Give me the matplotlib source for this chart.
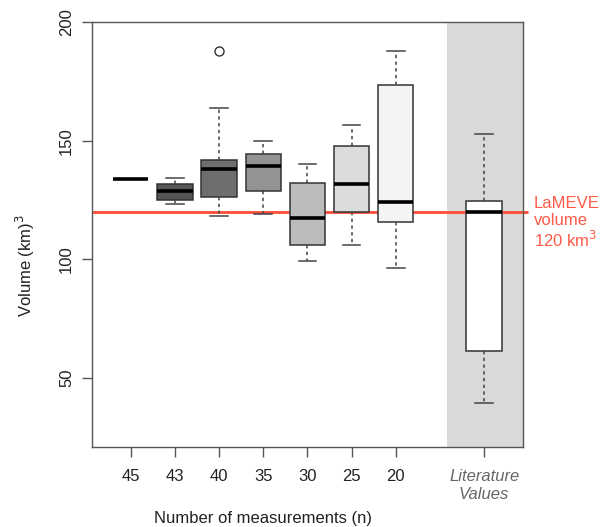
import matplotlib
matplotlib.use("Agg")
import matplotlib.pyplot as plt

plt.rcParams['font.family'] = ['Liberation Sans', 'DejaVu Sans']

# Box-plot summaries: volume (km^3) by number of measurements
categories = ["45", "43", "40", "35", "30", "25", "20"]
whisker_low = [133.8, 123.4, 118.5, 119.2, 99.2, 106.1, 96.2]
quart_low   = [133.8, 125.0, 126.1, 128.9, 106.2, 119.9, 115.7]
medians     = [133.8, 128.8, 138.1, 139.5, 117.5, 131.9, 124.3]
quart_high  = [133.8, 131.9, 142.0, 144.5, 132.3, 147.9, 173.6]
whisker_high = [133.8, 134.5, 163.7, 150.0, 140.0, 156.6, 187.7]
outliers    = [[], [], [187.8], [], [], [], []]
box_colors  = ["#3a3a3a", "#555555", "#6e6e6e", "#939393", "#bcbcbc", "#dcdcdc", "#f4f4f4"]

# Published literature volumes
lit_label = "Literature\nValues"
lit_stats = dict(whislo=39.6, q1=61.4, med=120.0, q3=124.4, whishi=152.7)

lamev_volume = 120

fig = plt.figure(figsize=(6.0, 5.27), dpi=100)
ax = fig.add_axes([92/600, 1 - 447/527, (523 - 92)/600, (447 - 22)/527])

xlim = (0.124, 9.88)
ax.set_xlim(*xlim)
ax.set_ylim(21, 200)

# shaded literature panel
ax.axvspan(8.15, xlim[1], color="#d9d9d9", lw=0, zorder=0)

positions = list(range(1, len(categories) + 1))
stats = []
for i in range(len(categories)):
    stats.append(dict(whislo=whisker_low[i], q1=quart_low[i], med=medians[i],
                      q3=quart_high[i], whishi=whisker_high[i], fliers=outliers[i]))
stats.append(dict(lit_stats, fliers=[]))
lit_pos = 9

edge = "#333333"
bp = ax.bxp(stats, positions=positions + [lit_pos], widths=0.8, patch_artist=True,
            showfliers=True,
            boxprops=dict(edgecolor=edge, linewidth=1.1),
            medianprops=dict(color="black", linewidth=2.6, solid_capstyle="butt"),
            whiskerprops=dict(color="#444444", linewidth=1.1, linestyle=(0, (2.2, 2.2))),
            capprops=dict(color="#444444", linewidth=1.1),
            flierprops=dict(marker="o", markerfacecolor="none", markeredgecolor="#333333",
                            markersize=6.5, markeredgewidth=1.0))
for patch, c in zip(bp["boxes"], box_colors + ["white"]):
    patch.set_facecolor(c)
# the single-valued group shows only its median line
bp["boxes"][0].set_visible(False)
for art in bp["whiskers"][0:2] + bp["caps"][0:2]:
    art.set_visible(False)

# LaMEVE reference line and label
ax.plot([xlim[0], 9.99], [lamev_volume, lamev_volume], color="#ff4b36", lw=2.0,
        clip_on=False, zorder=1.5, solid_capstyle="butt")
ax.text(10.12, 115.4, "LaMEVE\nvolume\n120 km$^3$", color="#ff5a48", fontsize=12,
        ha="left", va="center", linespacing=1.12, clip_on=False)

ax.set_xticks(positions + [lit_pos])
ax.set_xticklabels(categories + [lit_label], fontsize=12, color="#222222")
lab = ax.get_xticklabels()[-1]
lab.set_fontstyle("italic")
lab.set_color("#666666")
ax.set_yticks([50, 100, 150, 200])
ax.set_yticklabels(["50", "100", "150", "200"], rotation=90, va="center", fontsize=12,
                   color="#222222")

for s in ax.spines.values():
    s.set_color("#555555")
    s.set_linewidth(1.0)
ax.tick_params(axis="both", length=7, width=1.0, color="#555555")
ax.tick_params(axis="x", pad=9)
ax.tick_params(axis="y", pad=6)

ax.set_xlabel("Number of measurements (n)", fontsize=12, color="#222222", va="center")
ax.set_ylabel("Volume (km)$^3$", fontsize=12, color="#222222", va="center")
# x title sits under the measurement groups, y title slightly below centre
ax.xaxis.set_label_coords((4 - xlim[0]) / (xlim[1] - xlim[0]), (447 - 518) / 425)
ax.yaxis.set_label_coords((25 - 92) / 431, 0.426)

fig.savefig("out.png", dpi=100)
